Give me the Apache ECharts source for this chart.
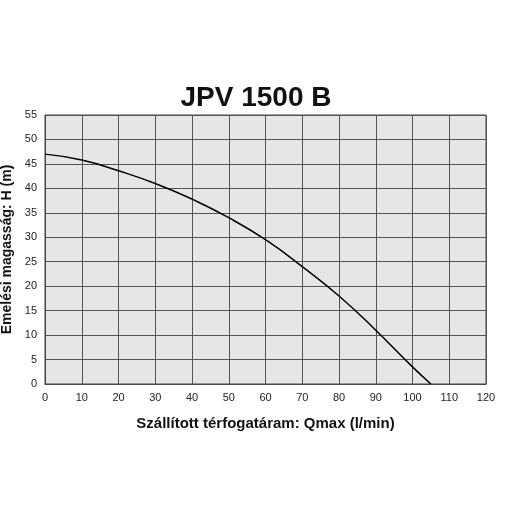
<!DOCTYPE html>
<html><head><meta charset="utf-8">
<script src="https://cdn.jsdelivr.net/npm/echarts@6/dist/echarts.min.js"></script>
<style>html,body{margin:0;background:#fff}#c{width:512px;height:512px}</style>
</head><body><div id="c"></div>
<script>
var flow = [0, 10, 20, 30, 40, 50, 60, 70, 80, 90, 100, 105];
var head = [47, 45.8, 43.6, 41, 37.8, 34, 29.5, 24, 18, 11, 3.5, 0];

var chart = echarts.init(document.getElementById('c'));
var axisText = {color: '#222', fontSize: 11, fontFamily: 'Liberation Sans'};
chart.setOption({
	animation: false,
	title: {
		text: 'JPV 1500 B', left: 'center', top: 79,
		textStyle: {fontSize: 28, fontWeight: 'bold', color: '#111', fontFamily: 'Liberation Sans'}
	},
	grid: {left: 45, right: 26, top: 115, bottom: 128, outerBoundsMode: 'none', backgroundColor: '#e6e6e6', show: true, borderColor: '#444', borderWidth: 1},
	xAxis: {
		type: 'value', min: 0, max: 120, interval: 10,
		name: 'Szállított térfogatáram: Qmax (l/min)', nameLocation: 'middle', nameGap: 32,
		nameTextStyle: {fontSize: 15, fontWeight: 'bold', color: '#111', fontFamily: 'Liberation Sans'},
		axisLine: {lineStyle: {color: '#444'}}, axisTick: {show: false},
		axisLabel: axisText,
		splitLine: {lineStyle: {color: '#555', width: 1}}
	},
	yAxis: {
		type: 'value', min: 0, max: 55, interval: 5,
		name: 'Emelési magasság: H (m)', nameLocation: 'middle', nameGap: 27,
		nameTextStyle: {fontSize: 14, fontWeight: 'bold', color: '#111', fontFamily: 'Liberation Sans'},
		axisLine: {lineStyle: {color: '#444'}}, axisTick: {show: false},
		axisLabel: axisText,
		splitLine: {lineStyle: {color: '#555', width: 1}}
	},
	series: [{
		type: 'line', smooth: true, symbol: 'none',
		lineStyle: {color: '#000', width: 1.5},
		data: flow.map(function(q, i){ return [q, head[i]]; })
	}]
});
</script></body></html>
